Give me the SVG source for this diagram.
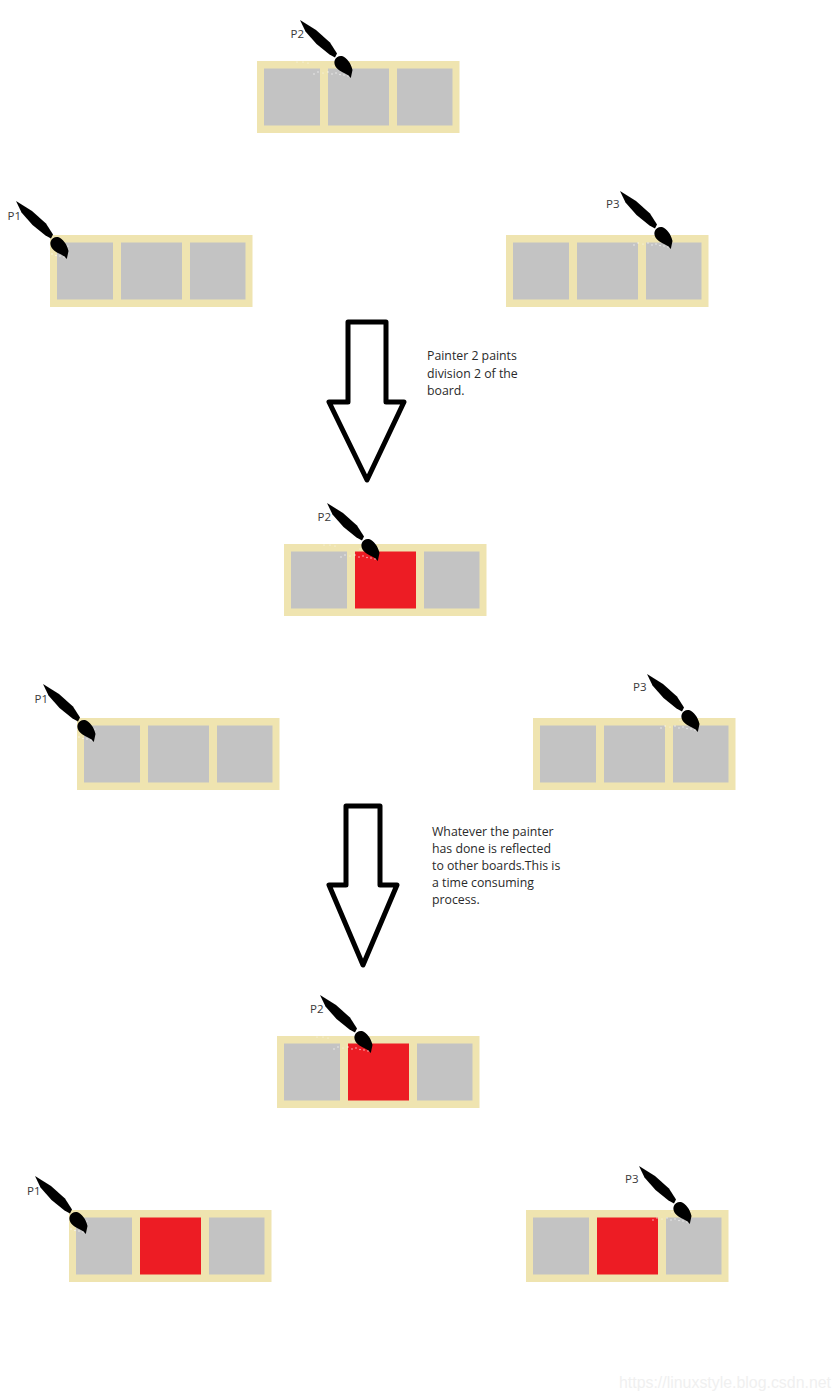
<svg xmlns="http://www.w3.org/2000/svg" width="840" height="1400" viewBox="0 0 840 1400">
<style>
.frame{fill:#efe4b0}
.cell{fill:#c3c3c3}
.red{fill:#ed1c24}
.lbl{font:11.5px "Open Sans","Liberation Sans",sans-serif;fill:#3a3a3a}
.note{font:12.3px "Open Sans","Liberation Sans",sans-serif;fill:#2a2a2a}
.arrow{fill:#fff;stroke:#000;stroke-width:5;stroke-linejoin:round}
.mark{font:15.9px "Liberation Sans",Arial,sans-serif;fill:#f0f0f0}
</style>
<defs>
<g id="board">
<rect class="frame" width="202.500" height="72"/>
<rect class="cell" x="7" y="7.500" width="56" height="57"/>
<rect class="cell" x="71" y="7.500" width="61" height="57"/>
<rect class="cell" x="140" y="7.500" width="55.500" height="57"/>
</g>
<g id="boardRed">
<rect class="frame" width="202.500" height="72"/>
<rect class="cell" x="7" y="7.500" width="56" height="57"/>
<rect class="red" x="71" y="7.500" width="61" height="57"/>
<rect class="cell" x="140" y="7.500" width="55.500" height="57"/>
</g>
<g id="brush">
<path d="M0 0 L16 10 L30 22.500 L37 33.500 L35 37.500 L29.500 34.500 L16.500 24 L5.500 11.500 Z" fill="#000"/>
<path d="M34.500 41 C35.500 37 39 35.500 42 36 C47 37.500 51 43.500 52.500 50 L50.800 58 C49 55.500 46 54 42.500 52.300 C38 50 33.500 46 34.500 41 Z" fill="#000"/>
<g fill="#fff" opacity=".85"><circle cx="-3" cy="42" r=".6"/><circle cx="3" cy="42" r=".6"/><circle cx="8" cy="43" r=".6"/><circle cx="14" cy="54" r=".7"/><circle cx="18" cy="52" r=".7"/><circle cx="23" cy="53" r=".6"/><circle cx="28" cy="52" r=".7"/><circle cx="32" cy="54" r=".7"/><circle cx="36" cy="53" r=".7"/><circle cx="40" cy="54.500" r=".7"/><circle cx="44" cy="55" r=".7"/><circle cx="48" cy="56" r=".7"/><circle cx="33" cy="46" r=".6"/><circle cx="52" cy="45" r=".6"/></g>
</g>
</defs>

<g id="connectors">
<path class="arrow" d="M348 322H386V402H404L367 480L329 402H348Z"/>
<path class="arrow" d="M346 806H380V885H397L363 965L329 885H346Z"/>
</g>

<g id="row1-p2"><use href="#board" x="257" y="61"/><use href="#brush" x="300" y="20"/><text class="lbl" x="290.500" y="38">P2</text></g>
<g id="row1-p1"><use href="#board" x="50" y="235"/><use href="#brush" x="16" y="201"/><text class="lbl" x="7.500" y="220">P1</text></g>
<g id="row1-p3"><use href="#board" x="506" y="235"/><use href="#brush" x="620" y="191"/><text class="lbl" x="606" y="208">P3</text></g>

<g id="row2-p2"><use href="#boardRed" x="284" y="544"/><use href="#brush" x="327" y="503"/><text class="lbl" x="317.500" y="521">P2</text></g>
<g id="row2-p1"><use href="#board" x="77" y="718"/><use href="#brush" x="43" y="684"/><text class="lbl" x="34.500" y="703">P1</text></g>
<g id="row2-p3"><use href="#board" x="533" y="718"/><use href="#brush" x="647" y="674"/><text class="lbl" x="633" y="691">P3</text></g>

<g id="row3-p2"><use href="#boardRed" x="277" y="1036"/><use href="#brush" x="320" y="995"/><text class="lbl" x="310" y="1013">P2</text></g>
<g id="row3-p1"><use href="#boardRed" x="69" y="1210"/><use href="#brush" x="35" y="1176"/><text class="lbl" x="27" y="1195">P1</text></g>
<g id="row3-p3"><use href="#boardRed" x="526" y="1210"/><use href="#brush" x="639" y="1166"/><text class="lbl" x="625" y="1183">P3</text></g>

<g id="note-1"><text class="note" x="427" y="360">Painter 2 paints</text><text class="note" x="427" y="378">division 2 of the</text><text class="note" x="427" y="395">board.</text></g>
<g id="note-2"><text class="note" x="432" y="836">Whatever the painter</text><text class="note" x="432" y="853">has done is reflected</text><text class="note" x="432" y="870">to other boards.This is</text><text class="note" x="432" y="887">a time consuming</text><text class="note" x="432" y="904">process.</text></g>
<text class="mark" x="619" y="1388">https://linuxstyle.blog.csdn.net</text>
</svg>
